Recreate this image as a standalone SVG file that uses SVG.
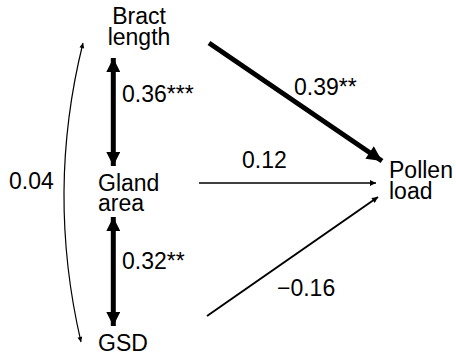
<svg xmlns="http://www.w3.org/2000/svg" width="456" height="356" viewBox="0 0 456 356">
<style>
text{font-family:"Liberation Sans",Arial,sans-serif;font-size:23px;fill:#000}
.c{fill:none;stroke:#000}
</style>
<defs>
<marker id="big" viewBox="0 0 10 10" refX="10" refY="5" markerWidth="4" markerHeight="3" orient="auto" markerUnits="strokeWidth"><path d="M0,0L10,5L0,10z"/></marker>
<marker id="big2" viewBox="0 0 10 10" refX="10" refY="5" markerWidth="3.2" markerHeight="2.8" orient="auto-start-reverse" markerUnits="strokeWidth"><path d="M0,0L10,5L0,10z"/></marker>
<marker id="sm" viewBox="0 0 10 10" refX="10" refY="5" markerWidth="9" markerHeight="6" orient="auto" markerUnits="userSpaceOnUse"><path d="M0,0L10,5L0,10z"/></marker>
<marker id="sm2" viewBox="0 0 10 10" refX="10" refY="5" markerWidth="8" markerHeight="5" orient="auto-start-reverse" markerUnits="userSpaceOnUse"><path d="M0,0L10,5L0,10z"/></marker>
</defs>
<g id="bract"><text x="139" y="24" text-anchor="middle">Bract</text><text x="139" y="45" text-anchor="middle">length</text></g>
<g id="gland"><text x="98" y="191">Gland</text><text x="98" y="211">area</text></g>
<g id="gsd"><text x="98" y="351">GSD</text></g>
<g id="pollen"><text x="389" y="178">Pollen</text><text x="389" y="199">load</text></g>
<g id="connectors">
<line class="c" x1="113.3" y1="58" x2="113.3" y2="166" stroke-width="5" marker-start="url(#big2)" marker-end="url(#big2)"/>
<line class="c" x1="113.3" y1="217" x2="113.3" y2="326" stroke-width="5" marker-start="url(#big2)" marker-end="url(#big2)"/>
<line class="c" x1="209" y1="43" x2="382" y2="161" stroke-width="5" marker-end="url(#big)"/>
<line class="c" x1="199" y1="183" x2="376" y2="183" stroke-width="1.5" marker-end="url(#sm)"/>
<line class="c" x1="207" y1="316" x2="378" y2="197" stroke-width="2" marker-end="url(#sm)"/>
<path class="c" d="M83,43Q46,191.5 81,342" stroke-width="1.2" marker-start="url(#sm2)" marker-end="url(#sm2)"/>
<text x="122" y="102">0.36***</text>
<text x="122" y="269">0.32**</text>
<text x="294" y="95">0.39**</text>
<text x="242" y="168">0.12</text>
<text x="277" y="296">−0.16</text>
<text x="9" y="189">0.04</text>
</g>
</svg>
